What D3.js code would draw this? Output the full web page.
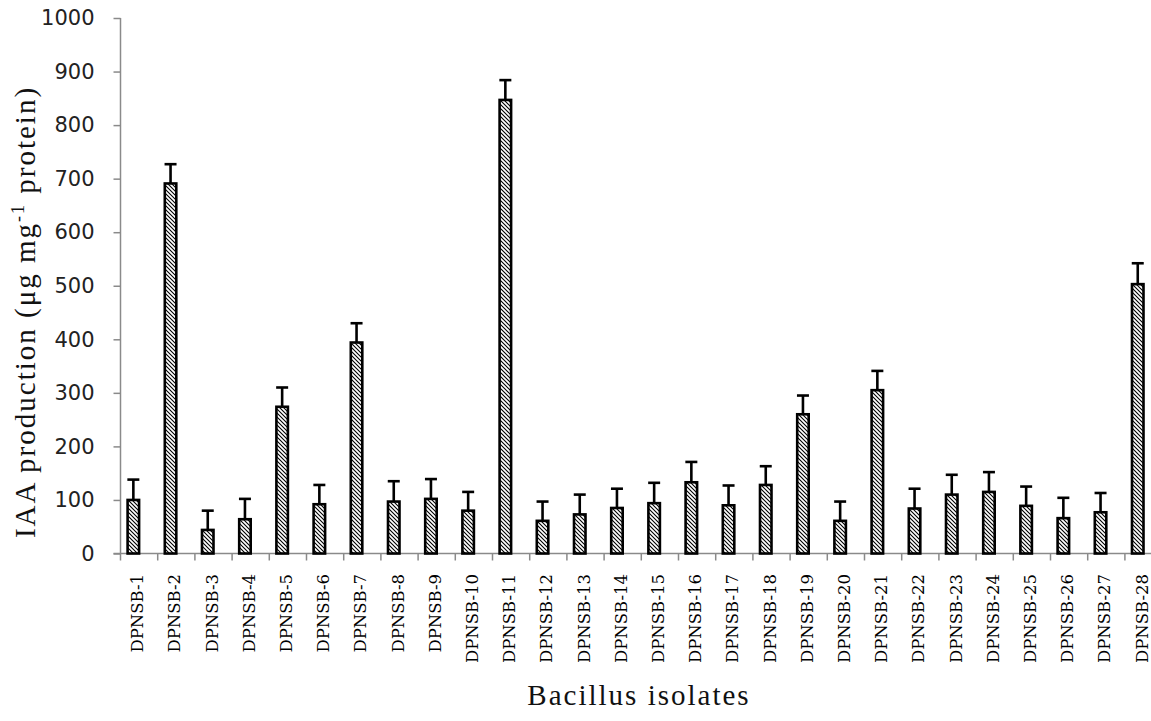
<!DOCTYPE html>
<html>
<head>
<meta charset="utf-8">
<script src="https://cdn.jsdelivr.net/npm/d3@7"></script>
<style>
html,body{margin:0;padding:0;background:#fff;overflow:hidden;}
</style>
</head>
<body>
<svg id="chart" width="1151" height="721"></svg>
<script>
const categories = ["DPNSB-1","DPNSB-2","DPNSB-3","DPNSB-4","DPNSB-5","DPNSB-6","DPNSB-7","DPNSB-8","DPNSB-9","DPNSB-10","DPNSB-11","DPNSB-12","DPNSB-13","DPNSB-14","DPNSB-15","DPNSB-16","DPNSB-17","DPNSB-18","DPNSB-19","DPNSB-20","DPNSB-21","DPNSB-22","DPNSB-23","DPNSB-24","DPNSB-25","DPNSB-26","DPNSB-27","DPNSB-28"];
const values = [100, 691, 44, 64, 274, 92, 394, 97, 102, 80, 847, 61, 73, 85, 94, 133, 90, 128, 260, 61, 305, 84, 110, 115, 89, 66, 77, 503];
const errors = [38, 36, 36, 38, 36, 36, 36, 38, 37, 35, 37, 36, 37, 36, 38, 38, 37, 35, 35, 36, 36, 37, 37, 37, 36, 38, 36, 39];
const yTicks = [0, 100, 200, 300, 400, 500, 600, 700, 800, 900, 1000];
const yTitle = "IAA production (\u03bcg mg";
const yTitleSup = "-1";
const yTitleEnd = " protein)";
const xTitle = "Bacillus isolates";

const svg = d3.select("#chart");
const x0 = 120.5, yBase = 553.5, yTop = 18;
const x = d3.scaleBand().domain(categories).range([x0, x0 + 37.2 * categories.length]).paddingInner(0).paddingOuter(0);
const y = d3.scaleLinear().domain([0, 1000]).range([yBase, yTop]);
const axisColor = "#8a8a8a";

const defs = svg.append("defs");
const pat = defs.append("pattern").attr("id", "hatch").attr("patternUnits", "userSpaceOnUse")
  .attr("width", 4).attr("height", 4);
pat.append("rect").attr("width", 4).attr("height", 4).attr("fill", "#fff");
pat.append("path").attr("d", "M-1,-1 L5,5 M-1,3 L1,5 M3,-1 L5,1")
  .attr("stroke", "#000").attr("stroke-width", 1.1);

// y axis
const yAxis = d3.axisLeft(y).tickValues(yTicks).tickSize(7).tickPadding(19).tickFormat(d3.format("d"));
const gy = svg.append("g").attr("transform", `translate(${x0},0)`).call(yAxis);
gy.select(".domain").attr("stroke", axisColor).attr("stroke-width", 1.5).attr("d", `M0,${yTop}V${yBase}`);
gy.selectAll(".tick line").attr("stroke", axisColor).attr("stroke-width", 1.5);
gy.selectAll(".tick text").attr("font-family", "'DejaVu Sans', sans-serif").attr("font-size", 21).attr("fill", "#222");

// x axis
const xAxis = d3.axisBottom(x).tickSize(0).tickFormat("");
const gx = svg.append("g").attr("transform", `translate(0,${yBase})`).call(xAxis);
gx.select(".domain").attr("stroke", axisColor).attr("stroke-width", 1.5).attr("d", `M${x0 - 7},0H1151`);
const bounds = categories.map(c => x(c)).concat([x0 + 37.2 * categories.length]);
gx.selectAll("line.bt").data(bounds).enter().append("line").attr("class", "bt")
  .attr("x1", d => d).attr("x2", d => d).attr("y1", 0).attr("y2", 7)
  .attr("stroke", axisColor).attr("stroke-width", 1.5);

// x labels
svg.append("g").selectAll("text").data(categories).enter().append("text")
  .attr("transform", d => `translate(${x(d) + x.bandwidth() / 2 + 4},574) rotate(-90)`)
  .attr("text-anchor", "end")
  .attr("font-family", "'DejaVu Serif', serif")
  .attr("font-size", 16.5)
  .attr("fill", "#000")
  .text(d => d);

// bars
const barW = 11.5;
const bx = d => x(d) + x.bandwidth() / 2 - barW;
const bars = svg.append("g");
bars.selectAll("rect").data(categories).enter().append("rect")
  .attr("x", d => bx(d))
  .attr("y", (d, i) => y(values[i]))
  .attr("width", barW)
  .attr("height", (d, i) => yBase - y(values[i]))
  .attr("fill", "url(#hatch)")
  .attr("stroke", "#000")
  .attr("stroke-width", 2.6);

// error bars
const eb = svg.append("g").attr("stroke", "#000").attr("stroke-width", 2.6);
categories.forEach((c, i) => {
  const cx = bx(c) + barW / 2;
  eb.append("line").attr("x1", cx).attr("x2", cx).attr("y1", y(values[i])).attr("y2", y(values[i] + errors[i]));
  eb.append("line").attr("x1", cx - 6).attr("x2", cx + 6).attr("y1", y(values[i] + errors[i])).attr("y2", y(values[i] + errors[i]));
});

// y title
const yt = svg.append("text")
  .attr("transform", `translate(35,312) rotate(-90)`)
  .attr("text-anchor", "middle")
  .attr("font-family", "'Liberation Serif', serif")
  .attr("font-size", 29)
  .attr("letter-spacing", 2)
  .attr("fill", "#111");
yt.append("tspan").text(yTitle);
yt.append("tspan").attr("dy", -11).attr("font-size", 18).text(yTitleSup);
yt.append("tspan").attr("dy", 11).text(yTitleEnd);

// x title
svg.append("text")
  .attr("x", 639).attr("y", 705)
  .attr("text-anchor", "middle")
  .attr("font-family", "'Liberation Serif', serif")
  .attr("font-size", 29)
  .attr("letter-spacing", 2)
  .attr("fill", "#111")
  .text(xTitle);
</script>
</body>
</html>
